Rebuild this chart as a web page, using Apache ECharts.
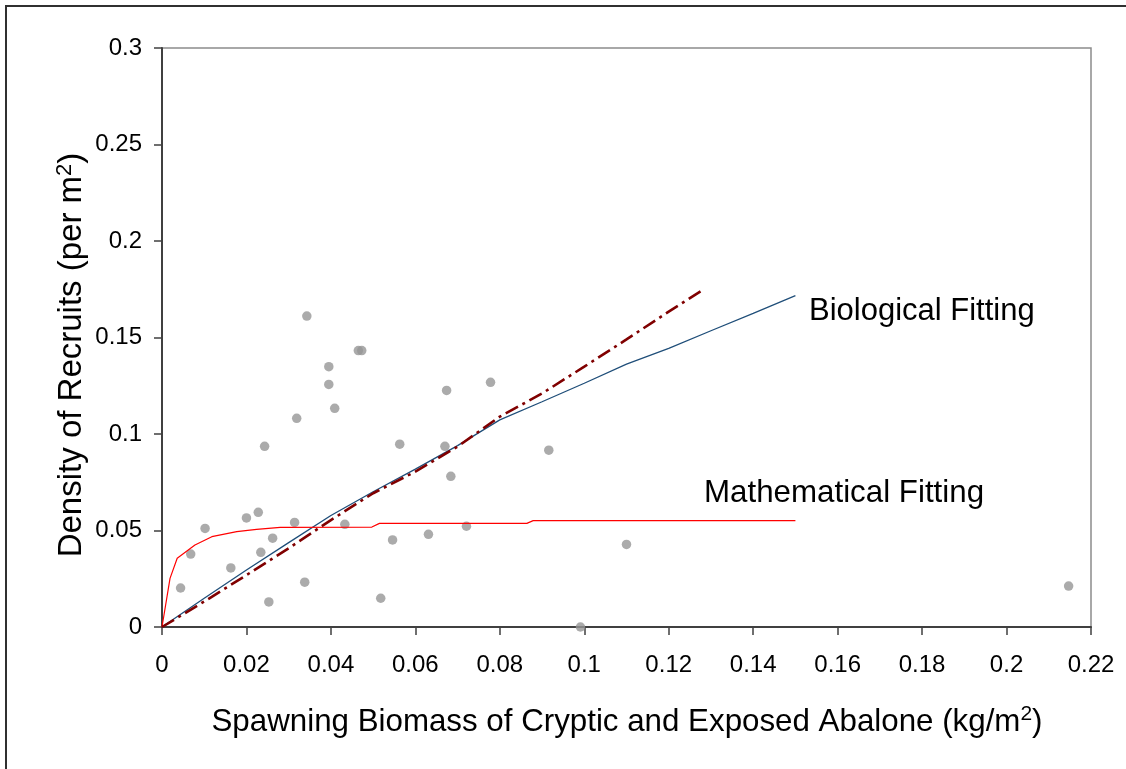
<!DOCTYPE html>
<html>
<head>
<meta charset="utf-8">
<script src="https://cdn.jsdelivr.net/npm/echarts@6/dist/echarts.min.js"></script>
<style>
  html, body { margin: 0; padding: 0; background: #fff; overflow: hidden; }
  #chart { width: 1126px; height: 769px; }
</style>
</head>
<body>
<div id="chart"></div>
<script>
// Observed recruits vs spawning biomass
const obsX = [0.0044, 0.0068, 0.0102, 0.0163, 0.0200, 0.0228, 0.0234, 0.0243, 0.0253, 0.0262,
              0.0314, 0.0319, 0.0338, 0.0343, 0.0395, 0.0395, 0.0409, 0.0433, 0.0465, 0.0473,
              0.0518, 0.0546, 0.0563, 0.0631, 0.0670, 0.0674, 0.0684, 0.0721, 0.0778, 0.0916,
              0.0991, 0.1100, 0.2147];
const obsY = [0.0202, 0.0378, 0.0511, 0.0306, 0.0565, 0.0594, 0.0387, 0.0936, 0.0130, 0.0460,
              0.0542, 0.1081, 0.0232, 0.1611, 0.1349, 0.1257, 0.1133, 0.0532, 0.1432, 0.1432,
              0.0149, 0.0451, 0.0947, 0.0480, 0.0936, 0.1226, 0.0781, 0.0522, 0.1268, 0.0916,
              0.0000, 0.0428, 0.0212];

// Biological (stock-recruitment) fit
const bioX = [0, 0.01, 0.02, 0.03, 0.04, 0.05, 0.06, 0.07, 0.08, 0.09, 0.10, 0.11, 0.12, 0.13, 0.14, 0.15];
const bioY = [0, 0.0149, 0.0295, 0.0437, 0.0578, 0.0701, 0.0818, 0.0940, 0.1073, 0.1167, 0.1263, 0.1362, 0.1444, 0.1535, 0.1625, 0.1717];

// Alternative biological fit (dash-dot)
const altX = [0, 0.01, 0.02, 0.03, 0.04, 0.05, 0.06, 0.07, 0.08, 0.09, 0.10, 0.11, 0.12, 0.128];
const altY = [0, 0.0132, 0.0269, 0.0408, 0.0554, 0.0693, 0.0805, 0.0935, 0.1090, 0.1210, 0.1349, 0.1490, 0.1634, 0.1746];

// Mathematical fit
const mathX = [0, 0.0019, 0.0036, 0.0078, 0.0118, 0.0177, 0.0224, 0.0280, 0.0497, 0.0515, 0.0864, 0.0879, 0.150];
const mathY = [0, 0.0252, 0.0356, 0.0425, 0.0468, 0.0494, 0.0506, 0.0516, 0.0518, 0.0537, 0.0537, 0.0551, 0.0551];

const xTicks = [0, 0.02, 0.04, 0.06, 0.08, 0.1, 0.12, 0.14, 0.16, 0.18, 0.2, 0.22];
const yTicks = [0, 0.05, 0.1, 0.15, 0.2, 0.25, 0.3];

const xTitle = 'Spawning Biomass of Cryptic and Exposed Abalone (kg/m{sup|2})';
const yTitle = 'Density of Recruits (per m{sup|2})';

const zip = (xs, ys) => xs.map((x, i) => [x, ys[i]]);
const FONT = '"Liberation Sans", Arial, sans-serif';
const tickText = list => v => {
  const t = list.find(k => Math.abs(k - v) < 1e-9);
  return t === undefined ? '' : String(t);
};
const supRich = size => ({
  sup: { fontFamily: FONT, fontSize: size, fill: '#000', color: '#000', verticalAlign: 'top', padding: [0, 0, Math.round(size * 0.7), 0] }
});

const chart = echarts.init(document.getElementById('chart'), null, { renderer: 'canvas' });

chart.setOption({
  animation: false,
  backgroundColor: '#fff',
  grid: {
    left: 162, top: 48, right: 35, bottom: 142,
    show: true, borderColor: '#8c8c8c', borderWidth: 1.5
  },
  xAxis: {
    type: 'value', min: 0, max: 0.22, interval: 0.02,
    axisLine: { show: true, onZero: false, lineStyle: { color: '#404040', width: 2 } },
    axisTick: { show: true, inside: false, length: 8, lineStyle: { color: '#404040', width: 1.5 } },
    splitLine: { show: false },
    axisLabel: { fontFamily: FONT, fontSize: 24, color: '#000', margin: 26, formatter: tickText(xTicks) }
  },
  yAxis: {
    type: 'value', min: 0, max: 0.3, interval: 0.05,
    axisLine: { show: true, onZero: false, lineStyle: { color: '#404040', width: 2 } },
    axisTick: { show: true, inside: false, length: 8, lineStyle: { color: '#404040', width: 1.5 } },
    splitLine: { show: false },
    axisLabel: { fontFamily: FONT, fontSize: 24, color: '#000', margin: 20, formatter: tickText(yTicks) }
  },
  series: [
    {
      name: 'Observed', type: 'scatter', data: zip(obsX, obsY),
      symbol: 'circle', symbolSize: 9.5,
      itemStyle: { color: '#969696' }, z: 2
    },
    {
      name: 'Biological Fitting', type: 'line', data: zip(bioX, bioY),
      showSymbol: false,
      lineStyle: { color: '#1F4E79', width: 1.3 }, z: 3
    },
    {
      name: 'Biological Fitting (alt)', type: 'line', data: zip(altX, altY),
      showSymbol: false,
      lineStyle: { color: '#800000', width: 2.6, type: [14, 5, 3, 5] }, z: 4
    },
    {
      name: 'Mathematical Fitting', type: 'line', data: zip(mathX, mathY),
      showSymbol: false,
      lineStyle: { color: '#FF0000', width: 1.2 }, z: 3
    }
  ],
  graphic: [
    {
      type: 'rect', x: 6, y: 6, z: -1, silent: true,
      shape: { x: 0, y: 0, width: 1140, height: 790 },
      style: { fill: 'none', stroke: '#303030', lineWidth: 2 }
    },
    {
      type: 'text', x: 809, y: 311,
      style: { text: 'Biological Fitting', font: '31px ' + FONT, fill: '#000', align: 'left', verticalAlign: 'middle' }
    },
    {
      type: 'text', x: 704, y: 493,
      style: { text: 'Mathematical Fitting', font: '31.3px ' + FONT, fill: '#000', align: 'left', verticalAlign: 'middle' }
    },
    {
      type: 'text', x: 627, y: 722,
      style: {
        text: xTitle, font: '31.3px ' + FONT, fill: '#000', align: 'center', verticalAlign: 'middle',
        rich: supRich(21)
      }
    },
    {
      type: 'text', x: 72, y: 355, rotation: Math.PI / 2,
      style: {
        text: yTitle, font: '33px ' + FONT, fill: '#000', align: 'center', verticalAlign: 'middle',
        rich: supRich(22)
      }
    }
  ]
});
</script>
</body>
</html>
